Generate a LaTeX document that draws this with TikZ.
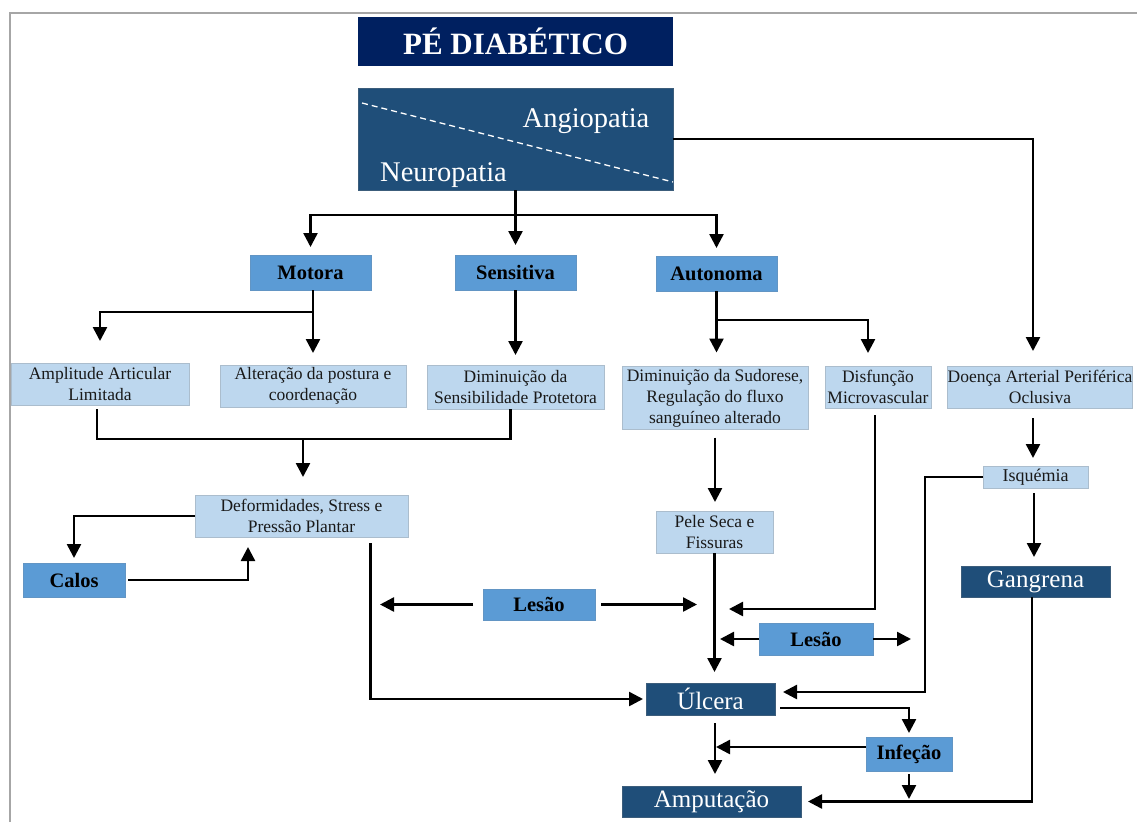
\documentclass[tikz,border=0pt]{standalone}
\usepackage{fontspec}
\setmainfont{Liberation Serif}
\usetikzlibrary{arrows.meta}
\definecolor{navy}{HTML}{002060}
\definecolor{darkb}{HTML}{1F4E79}
\definecolor{midb}{HTML}{5B9BD5}
\definecolor{lightb}{HTML}{BDD7EE}
\definecolor{framegray}{HTML}{A6A6A6}
\begin{document}
\begin{tikzpicture}[x=1pt,y=-1pt,
  box/.style={inner sep=0pt, outer sep=0pt, align=center},
  wh/.style 2 args={minimum width=#1pt, minimum height=#2pt},
  lb/.style={box, fill=lightb, draw=lightb!70!gray, line width=0.8pt, text=black!90, font=\fontsize{17.5}{21}\selectfont},
  mb/.style={box, fill=midb, draw=midb!80!gray, line width=0.8pt, text=black, font=\bfseries\fontsize{20.5}{24}\selectfont},
  db/.style={box, fill=darkb, draw=darkb!70!gray, line width=0.8pt, text=white, font=\fontsize{25}{30}\selectfont},
  arr/.style={draw, line width=2.5pt, -{Triangle[length=14pt,width=14pt]}},
  ln/.style={draw, line width=2.5pt},
]
\useasboundingbox (0,0) rectangle (1137,822);
% page frame
\draw[framegray, line width=2pt] (10,822) -- (10,13) -- (1137,13);

% title and the split head box
\node[box, fill=navy, text=white, wh={315}{49}, font=\bfseries\fontsize{31}{36}\selectfont] (title) at (515.5,41.5) {PÉ DIABÉTICO};
\node[db, wh={315}{102}] (main) at (515.5,139) {};
\draw[white, line width=1.3pt, dash pattern=on 6pt off 4pt] (362,103) -- (673,182);
\node[box, text=white, anchor=base, font=\fontsize{28.5}{32}\selectfont] (angio) at (586,127) {Angiopatia};
\node[box, text=white, anchor=base, font=\fontsize{28.5}{32}\selectfont] (neuro) at (443.5,181) {Neuropatia};

% neuropathy types
\node[mb, wh={121}{35}] (motora) at (310.5,272.5) {Motora};
\node[mb, wh={121}{35}] (sensitiva) at (515.5,272.5) {Sensitiva};
\node[mb, wh={121}{35}] (autonoma) at (716.5,273.5) {Autonoma};

% consequences
\node[lb, wh={178}{42}] (amplitude) at (100,384) {Amplitude Articular\\Limitada};
\node[lb, wh={186}{42}] (alteracao) at (313,386) {Alteração da postura e\\coordenação};
\node[lb, wh={177}{44}] (sensib) at (515.5,387) {Diminuição da\\Sensibilidade Protetora};
\node[lb, wh={186}{63}] (sudorese) at (715,398) {Diminuição da Sudorese,\\Regulação do fluxo\\sanguíneo alterado};
\node[lb, wh={106}{42}] (disfuncao) at (878,387) {Disfunção\\Microvascular};
\node[lb, wh={184}{42}] (doenca) at (1040,387) {Doença Arterial Periférica\\Oclusiva};
\node[lb, wh={213}{42}] (deform) at (301.5,516) {Deformidades, Stress e\\Pressão Plantar};
\node[mb, wh={102}{34}] (calos) at (74,580) {Calos};
\node[lb, wh={117}{42}] (peleseca) at (714.5,532) {Pele Seca e\\Fissuras};
\node[mb, wh={112}{31}] (lesao1) at (539,604.5) {Lesão};
\node[mb, wh={114}{32}] (lesao2) at (816,639) {Lesão};
\node[lb, wh={105}{22}, font=\fontsize{18}{20}\selectfont] (isquemia) at (1035.5,477) {Isquémia};
\node[db, wh={149}{31}] (gangrena) at (1035.5,581.5) {Gangrena};
\node[db, wh={129}{32}] (ulcera) at (710.5,699) {Úlcera};
\node[mb, wh={86}{34}] (infecao) at (909,754) {Infeção};
\node[db, wh={179}{31}] (amputacao) at (711.5,801.5) {Amputação};

% junction points and free arrow ends
\coordinate (split) at (515.5,215);
\coordinate (mj) at (313,312);
\coordinate (aj) at (716.5,320);
\coordinate (ml) at (303,439);
\coordinate (l1a) at (380,604.5);
\coordinate (l1b) at (697,604.5);
\coordinate (dm) at (729,609);
\coordinate (l2a) at (720,639);
\coordinate (l2b) at (911,639);
\coordinate (iq) at (925,692);
\coordinate (iqt) at (783,692);
\coordinate (ui) at (909,708);
\coordinate (ia) at (716,747);
\coordinate (ib) at (909,799);

% connectors
\draw[arr, shorten >=10pt] (main.south) -- (sensitiva.north);
\draw[arr, shorten >=8pt] (split) -| (motora.north);
\draw[arr, shorten >=8pt] (split) -| (autonoma.north);
\draw[arr, shorten >=15pt] (main.east) -| ([xshift=-7pt]doenca.north);

\draw[ln] (motora.south -| mj) -- (mj);
\draw[arr, shorten >=12pt] (mj) -- (alteracao.north);
\draw[arr, shorten >=22pt] (mj) -| (amplitude.north);
\draw[arr, shorten >=10pt] (sensitiva.south) -- (sensib.north);
\draw[arr, shorten >=14pt] (autonoma.south) -- (autonoma.south |- sudorese.north);
\draw[arr, shorten >=13pt] (aj) -| ([xshift=-10pt]disfuncao.north);

\draw[ln, shorten <=4pt] ([xshift=-3pt]amplitude.south) |- (ml) -| ([xshift=-5pt]sensib.south);
\draw[arr, shorten >=18pt] (ml) -- (ml |- deform.north);
\draw[arr, shorten >=5pt] (deform.west) -| (calos.north);
\draw[arr, shorten <=3pt, shorten >=10pt] (calos.east) -| ([xshift=-53.5pt]deform.south);
\draw[arr, shorten <=6pt, shorten >=3pt] ([xshift=69pt]deform.south) |- (ulcera.west);

\draw[arr, shorten <=8pt, shorten >=9pt] (sudorese.south) -- (sudorese.south |- peleseca.north);
\draw[arr, shorten >=11pt] (peleseca.south) -- (peleseca.south |- ulcera.north);
\draw[arr, shorten <=10pt] (lesao1.west) -- (l1a);
\draw[arr, shorten <=6pt] (lesao1.east) -- (l1b);
\draw[arr, shorten <=7pt] ([xshift=-3pt]disfuncao.south) |- (dm);
\draw[arr] (lesao2.west) -- (l2a);
\draw[arr] (lesao2.east) -- (l2b);

\draw[arr, shorten <=10pt, shorten >=8pt] ([xshift=-7pt]doenca.south) -- ([xshift=-7pt]doenca.south |- isquemia.north);
\draw[arr] (isquemia.west) -| (iq) -- (iqt);
\draw[arr, shorten <=5pt, shorten >=9pt] ([xshift=-1.5pt]isquemia.south) -- ([xshift=-1.5pt]isquemia.south |- gangrena.north);
\draw[arr, shorten >=7pt] ([xshift=-3.5pt]gangrena.south) |- (amputacao.east);

\draw[arr, shorten <=5pt, shorten >=4pt] (ulcera.east |- ui) -| (infecao.north);
\draw[arr] (infecao.west |- ia) -- (ia);
\draw[arr, shorten <=8pt, shorten >=12pt] ([xshift=4.5pt]ulcera.south) -- ([xshift=4.5pt]ulcera.south |- amputacao.north);
\draw[arr, shorten <=3pt] (infecao.south) -- (ib);
\end{tikzpicture}
\end{document}
